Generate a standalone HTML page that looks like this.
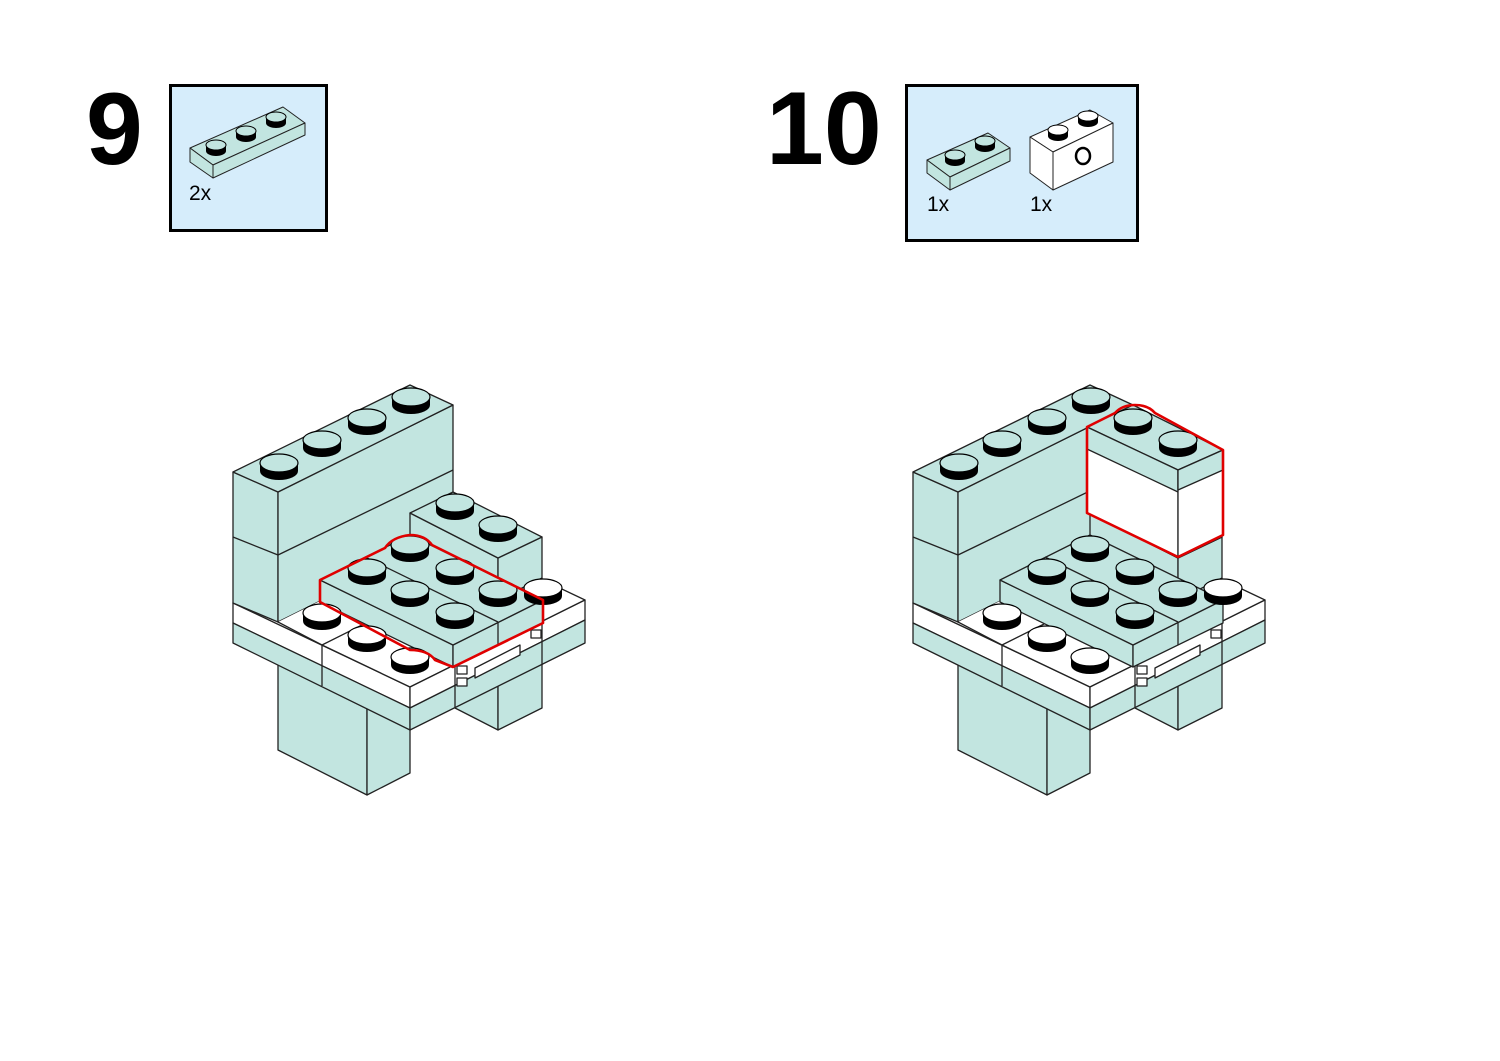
<!DOCTYPE html>
<html><head><meta charset="utf-8"><style>
html,body{margin:0;padding:0;background:#fff;}
svg{display:block;}
</style></head><body>
<svg width="1500" height="1061" viewBox="0 0 1500 1061" xmlns="http://www.w3.org/2000/svg">
<defs>
<g id="stud"><path d="M-19,0 L-19,8 A19,9 0 0 0 19,8 L19,0 Z" fill="#000"/><ellipse cx="0" cy="0" rx="19" ry="9" fill="#c2e5e0" stroke="#000" stroke-width="1.2"/></g>
<g id="wstud"><path d="M-19,0 L-19,8 A19,9 0 0 0 19,8 L19,0 Z" fill="#000"/><ellipse cx="0" cy="0" rx="19" ry="9" fill="#fff" stroke="#000" stroke-width="1.2"/></g>
<g id="sstud"><path d="M-10,0 L-10,6 A10,5 0 0 0 10,6 L10,0 Z" fill="#000"/><ellipse cx="0" cy="0" rx="10" ry="5" fill="#c2e5e0" stroke="#000" stroke-width="1"/></g>
<g id="sstudw"><path d="M-10,0 L-10,6 A10,5 0 0 0 10,6 L10,0 Z" fill="#000"/><ellipse cx="0" cy="0" rx="10" ry="5" fill="#fff" stroke="#000" stroke-width="1"/></g>

<g id="model" stroke="#222" stroke-width="1.3" stroke-linejoin="round">
  <polygon points="278,640 367,685 367,795 278,750" fill="#c2e5e0"/>
  <polygon points="367,685 410,663 410,773 367,795" fill="#c2e5e0"/>
  <polygon points="455,660 498,682 498,730 455,708" fill="#c2e5e0"/>
  <polygon points="498,682 542,660 542,708 498,730" fill="#c2e5e0"/>
  <polygon points="233,603 408,516 585,600 410,687" fill="#fff"/>
  <polygon points="233,603 410,687 410,708 233,623" fill="#fff"/>
  <polygon points="233,623 410,708 410,730 233,643" fill="#c2e5e0"/>
  <polygon points="410,687 585,600 585,620 410,708" fill="#fff"/>
  <polygon points="410,708 585,620 585,643 410,730" fill="#c2e5e0"/>
  <line x1="322" y1="645" x2="322" y2="686"/>
  <line x1="455" y1="665" x2="455" y2="708"/>
  <line x1="542" y1="622" x2="542" y2="665"/>
  <polygon points="233,472 278,492 278,622 233,603" fill="#c2e5e0"/>
  <polygon points="278,492 453,405 453,535 278,622" fill="#c2e5e0"/>
  <polygon points="233,472 410,385 453,405 278,492" fill="#c2e5e0"/>
  <line x1="233" y1="537" x2="278" y2="555"/>
  <line x1="278" y1="555" x2="453" y2="470"/>
  <polygon points="278,622 322,600 410,645 410,687 322,645 " fill="#fff" stroke="none"/>
  <polyline points="278,622 322,645 410,687" fill="none"/>
  <line x1="322" y1="645" x2="366" y2="623"/>
  <polygon points="410,513 498,558 498,640 410,600" fill="#c2e5e0"/>
  <polygon points="498,558 542,537 542,620 498,640" fill="#c2e5e0"/>
  <polygon points="410,513 453,492 542,537 498,558" fill="#c2e5e0"/>
  <line x1="498" y1="600" x2="542" y2="578"/>
  <polygon points="475,668 520,645 520,655 475,678" fill="#fff"/>
  <rect x="457" y="666" width="10" height="8" fill="#fff"/>
  <rect x="457" y="678" width="10" height="8" fill="#fff"/>
  <rect x="531" y="630" width="10" height="8" fill="#fff"/>
  <polygon points="320,580 453,645 453,667 320,602" fill="#c2e5e0"/>
  <polygon points="453,645 543,600 543,623 453,667" fill="#c2e5e0"/>
  <polygon points="320,580 410,535 543,600 453,645" fill="#c2e5e0"/>
  <line x1="365" y1="557" x2="498" y2="622"/>
  <line x1="498" y1="622" x2="498" y2="645"/>
</g>
</defs>

<text x="86" y="164" font-family="Liberation Sans, sans-serif" font-weight="bold" font-size="102">9</text>
<rect x="170.5" y="85.5" width="156" height="145" fill="#d6edfb" stroke="#000" stroke-width="3"/>
<g stroke="#222" stroke-width="1" stroke-linejoin="round">
  <polygon points="190,148 283,107 305,123 213,165" fill="#c2e5e0"/>
  <polygon points="190,148 213,165 213,178 190,162" fill="#c2e5e0"/>
  <polygon points="213,165 305,123 305,135 213,178" fill="#c2e5e0"/>
</g>
<use href="#sstud" x="216" y="145"/><use href="#sstud" x="246" y="131"/><use href="#sstud" x="276" y="117"/>
<text x="189" y="200" font-family="Liberation Sans, sans-serif" font-size="21">2x</text>

<use href="#model"/>
<use href="#stud" x="279" y="463"/><use href="#stud" x="322" y="440"/><use href="#stud" x="367" y="418"/><use href="#stud" x="411" y="397"/>
<use href="#stud" x="455" y="503"/><use href="#stud" x="498" y="525"/>
<use href="#wstud" x="322" y="613"/><use href="#wstud" x="367" y="635"/><use href="#wstud" x="410" y="657"/><use href="#wstud" x="543" y="588"/>
<use href="#stud" x="410" y="545"/><use href="#stud" x="367" y="568"/><use href="#stud" x="455" y="568"/><use href="#stud" x="410" y="590"/><use href="#stud" x="498" y="590"/><use href="#stud" x="455" y="612"/>
<path d="M320,580 L385,548 Q392,537 410,535 Q425,535 432,545 L543,600 L543,623 L453,667 L435,660 Q428,650 410,650 L320,602 Z" fill="none" stroke="#e00000" stroke-width="2.6" stroke-linejoin="round"/>

<text x="766" y="164" font-family="Liberation Sans, sans-serif" font-weight="bold" font-size="104">10</text>
<rect x="906.5" y="85.5" width="231" height="155" fill="#d6edfb" stroke="#000" stroke-width="3"/>
<g stroke="#222" stroke-width="1" stroke-linejoin="round">
  <polygon points="927,160 988,133 1010,148 950,177" fill="#c2e5e0"/>
  <polygon points="927,160 950,177 950,190 927,173" fill="#c2e5e0"/>
  <polygon points="950,177 1010,148 1010,161 950,190" fill="#c2e5e0"/>
  <polygon points="1030,137 1090,110 1113,123 1053,152" fill="#fff"/>
  <polygon points="1030,137 1053,152 1053,190 1030,173" fill="#fff"/>
  <polygon points="1053,152 1113,123 1113,162 1053,190" fill="#fff"/>
</g>
<use href="#sstud" x="955" y="155"/><use href="#sstud" x="985" y="141"/>
<use href="#sstudw" x="1058" y="130"/><use href="#sstudw" x="1088" y="116"/>
<ellipse cx="1083" cy="156" rx="7" ry="8" fill="none" stroke="#000" stroke-width="2.5"/>
<text x="927" y="211" font-family="Liberation Sans, sans-serif" font-size="21">1x</text>
<text x="1030" y="211" font-family="Liberation Sans, sans-serif" font-size="21">1x</text>

<g transform="translate(680,0)">
<use href="#model"/>
<use href="#stud" x="279" y="463"/><use href="#stud" x="322" y="440"/><use href="#stud" x="367" y="418"/><use href="#stud" x="411" y="397"/>
<use href="#wstud" x="322" y="613"/><use href="#wstud" x="367" y="635"/><use href="#wstud" x="410" y="657"/><use href="#wstud" x="543" y="588"/>
<use href="#stud" x="410" y="545"/><use href="#stud" x="367" y="568"/><use href="#stud" x="455" y="568"/><use href="#stud" x="410" y="590"/><use href="#stud" x="498" y="590"/><use href="#stud" x="455" y="612"/>
</g>
<g stroke="#222" stroke-width="1.3" stroke-linejoin="round">
  <polygon points="1087,427 1133,405 1223,450 1178,470" fill="#c2e5e0"/>
  <polygon points="1087,427 1178,470 1178,557 1087,513" fill="#fff"/>
  <polygon points="1087,427 1178,470 1178,492 1087,449" fill="#c2e5e0"/>
  <polygon points="1178,470 1223,450 1223,535 1178,557" fill="#fff"/>
  <polygon points="1178,470 1223,450 1223,470 1178,490" fill="#c2e5e0"/>
</g>
<use href="#stud" x="1133" y="418"/><use href="#stud" x="1178" y="440"/>
<path d="M1087,427 L1115,413 Q1122,405 1135,405 Q1148,405 1155,413 L1223,450 L1223,535 L1178,557 L1087,513 Z" fill="none" stroke="#e00000" stroke-width="2.6" stroke-linejoin="round"/>
</svg>
</body></html>
